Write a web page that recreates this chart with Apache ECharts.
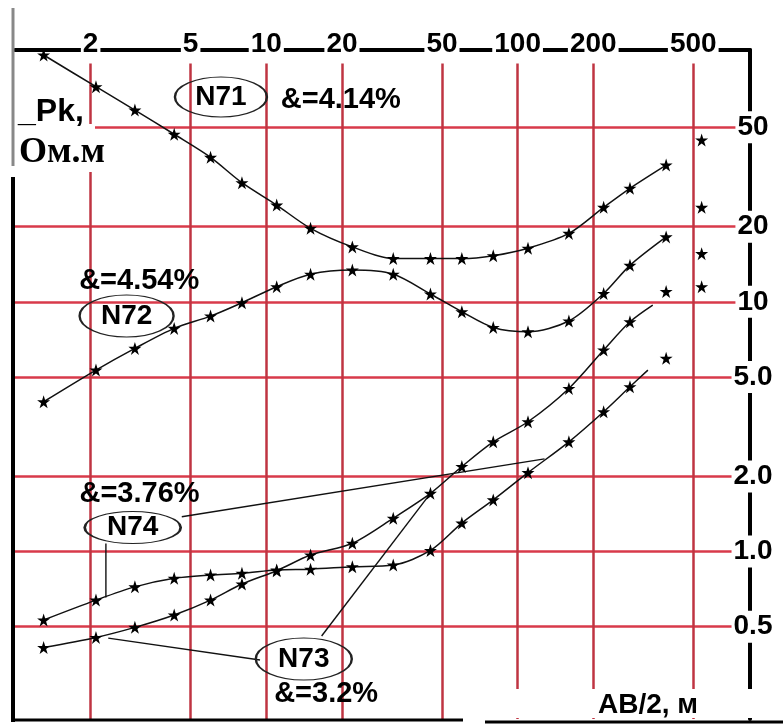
<!DOCTYPE html>
<html><head><meta charset="utf-8">
<script src="https://cdn.jsdelivr.net/npm/echarts@6/dist/echarts.min.js"></script>
<style>html,body{margin:0;padding:0;background:#fff}#c{width:783px;height:724px}</style>
</head><body><div id="c"></div>
<script>
// AB/2 (m) of the sounding stations
const abHalf = [1.3, 2.1, 3, 4.3, 6, 8, 11, 15, 22, 32, 45, 60, 80, 110, 160, 220, 280, 390];
// apparent resistivity (Ohm.m), connected observations
const rhoN71 = [97.4, 72.7, 58.6, 46.9, 37.9, 30.0, 24.4, 19.7, 16.6, 14.9, 14.9, 14.9, 15.3, 16.4, 18.8, 23.9, 28.5, 35.3];
const rhoN72 = [3.98, 5.33, 6.51, 7.83, 8.77, 9.92, 11.5, 12.9, 13.4, 12.9, 10.75, 9.13, 7.9, 7.59, 8.38, 10.8, 14.0, 18.2];
const rhoN74 = [0.532, 0.639, 0.722, 0.781, 0.805, 0.818, 0.843, 0.85, 0.869, 0.883, 1.01, 1.30, 1.61, 2.07, 2.75, 3.63, 4.57, null];
const rhoN73 = [0.413, 0.453, 0.497, 0.557, 0.639, 0.741, 0.838, 0.968, 1.079, 1.36, 1.71, 2.19, 2.75, 3.31, 4.50, 6.41, 8.32, null];
// where the drawn curve stops (no observation there)
const curveEndN74 = [330, 5.33];
const curveEndN73 = [345, 9.71];
// observations not joined to the curves
const looseAB = [390, 540];
const looseN71 = [null, 44.5];
const looseN72 = [null, 23.9];
const looseN74 = [5.94, 11.5];
const looseN73 = [11.0, 15.6];
// axis ticks
const xTicks = [2, 5, 10, 20, 50, 100, 200, 500];
const yTicks = [0.5, 1, 2, 5, 10, 20, 50];
const yTickLabels = ['0.5', '1.0', '2.0', '5.0', '10', '20', '50'];
// annotations (in data coordinates)
const tagNames = ['N71', 'N72', 'N74', 'N73'];
const tagAt = [[6.6, 66.1], [2.78, 8.78], [2.94, 1.248], [14.1, 0.371]];
const errTexts = ['&=4.14%', '&=4.54%', '&=3.76%', '&=3.2%'];
const errAt = [[19.8, 64.3], [3.12, 12.1], [3.13, 1.70], [17.3, 0.269]];
const leaders = [
  [[2.3, 1.077], [2.3, 0.655]],
  [[4.61, 1.379], [128, 2.35]],
  [[9.44, 0.368], [2.35, 0.45]],
  [[16.6, 0.459], [45, 1.71]]
];

const STAR = 'path://M0,-10L2.245,-3.09L9.51,-3.09L3.633,1.18L5.878,8.09L0,3.82L-5.878,8.09L-3.633,1.18L-9.51,-3.09L-2.245,-3.09Z';
const ELLIPSE = 'path://M0,-1C0.552,-1 1,-0.552 1,0C1,0.552 0.552,1 0,1C-0.552,1 -1,0.552 -1,0C-1,-0.552 -0.552,-1 0,-1Z';
const SANS = '"Liberation Sans", Arial, sans-serif';

function curveData(rho, end) {
  const d = [];
  abHalf.forEach((a, i) => { if (rho[i] != null) d.push([a, rho[i]]); });
  if (end) d.push({ value: end, symbol: 'none' });
  return d;
}
function looseData(rho) {
  const d = [];
  looseAB.forEach((a, i) => { if (rho[i] != null) d.push([a, rho[i]]); });
  return d;
}
const curveStyle = {
  type: 'line', smooth: 0.3, symbol: STAR, symbolSize: 13, showSymbol: true,
  itemStyle: { color: '#000', opacity: 1 }, lineStyle: { color: '#111', width: 1.5 }, z: 3
};
const looseStyle = { type: 'scatter', symbol: STAR, symbolSize: 13, itemStyle: { color: '#000', opacity: 1 }, z: 3 };

const series = [
  Object.assign({ name: 'N71', data: curveData(rhoN71) }, curveStyle),
  Object.assign({ name: 'N72', data: curveData(rhoN72) }, curveStyle),
  Object.assign({ name: 'N74', data: curveData(rhoN74, curveEndN74) }, curveStyle),
  Object.assign({ name: 'N73', data: curveData(rhoN73, curveEndN73) }, curveStyle),
  Object.assign({ data: looseData(looseN71) }, looseStyle),
  Object.assign({ data: looseData(looseN72) }, looseStyle),
  Object.assign({ data: looseData(looseN74) }, looseStyle),
  Object.assign({ data: looseData(looseN73) }, looseStyle)
];
leaders.forEach(seg => series.push({
  type: 'line', data: seg, symbol: 'none', smooth: false,
  lineStyle: { color: '#111', width: 1.4 }, z: 3
}));
const tagSizes = [[92, 40], [94, 42], [96, 32], [96, 42]];
series.push({
  type: 'scatter', z: 4,
  data: tagNames.map((n, i) => ({ name: n, value: tagAt[i], symbolSize: tagSizes[i] })),
  symbol: ELLIPSE,
  itemStyle: { color: 'rgba(0,0,0,0)', borderColor: '#222', borderWidth: 1.6, opacity: 1 },
  label: { show: true, position: 'inside', formatter: p => p.name, color: '#000', opacity: 1,
           fontSize: 28, fontWeight: 'bold', fontFamily: SANS }
});
series.push({
  type: 'scatter', z: 4, symbol: 'rect', symbolSize: 1,
  data: errTexts.map((t, i) => ({ name: t, value: errAt[i] })),
  itemStyle: { color: 'rgba(0,0,0,0)', opacity: 1 },
  label: { show: true, position: 'inside', formatter: p => p.name, color: '#000', opacity: 1,
           fontSize: 29, fontWeight: 'bold', fontFamily: SANS }
});

const chart = echarts.init(document.getElementById('c'));
chart.setOption({
  animation: false,
  backgroundColor: '#fff',
  grid: { left: 15, right: 33, top: 50, bottom: 5 },
  xAxis: {
    type: 'log', logBase: 10, min: 1, max: 841, position: 'top',
    axisLine: { show: true, lineStyle: { color: '#000', width: 4 } },
    axisTick: { show: false, customValues: xTicks },
    minorTick: { show: false },
    axisLabel: {
      customValues: xTicks, formatter: v => String(Math.round(v)),
      margin: 6, verticalAlign: 'middle', fontSize: 28, fontWeight: 'bold', fontFamily: SANS,
      color: '#000', backgroundColor: '#fff', padding: [3, 2, 8, 2]
    },
    splitLine: { show: true, lineStyle: { color: '#bf3442', width: 2.5 } }
  },
  yAxis: {
    type: 'log', logBase: 10, min: 0.2135, max: 102, position: 'right',
    axisLine: { show: true, lineStyle: { color: '#000', width: 4 } },
    axisTick: { show: false, customValues: yTicks },
    minorTick: { show: false },
    axisLabel: {
      customValues: yTicks,
      formatter: v => { const i = yTicks.findIndex(t => Math.abs(t - v) < 1e-6 * t); return i >= 0 ? yTickLabels[i] : ''; },
      margin: 3, align: 'center', verticalAlign: 'middle', fontSize: 28, fontWeight: 'bold', fontFamily: SANS,
      color: '#000', backgroundColor: '#fff', padding: [2, 2, 2, 2]
    },
    splitLine: { show: true, lineStyle: { color: '#d83a4a', width: 2.5 } }
  },
  graphic: [
    { type: 'rect', z: 1, shape: { x: 15, y: 124, width: 80, height: 48 }, style: { fill: '#fff' } },
    { type: 'rect', z: 1, shape: { x: 462, y: 689, width: 321, height: 29 }, style: { fill: '#fff' } },
    { type: 'line', z: 5, shape: { x1: 13, y1: 8, x2: 13, y2: 166 }, style: { stroke: '#888', lineWidth: 3 } },
    { type: 'line', z: 5, shape: { x1: 13, y1: 177, x2: 13, y2: 722 }, style: { stroke: '#000', lineWidth: 4 } },
    { type: 'line', z: 5, shape: { x1: 11, y1: 720, x2: 463, y2: 720 }, style: { stroke: '#000', lineWidth: 3 } },
    { type: 'line', z: 5, shape: { x1: 485, y1: 722, x2: 783, y2: 722 }, style: { stroke: '#000', lineWidth: 3 } },
    { type: 'text', z: 5, style: { text: '_Pk,', x: 18, y: 112, verticalAlign: 'middle', font: 'bold 32px ' + SANS, fill: '#000' } },
    { type: 'text', z: 5, style: { text: 'Ом.м', x: 19, y: 153, verticalAlign: 'middle', font: 'bold 36px "Liberation Serif", serif', fill: '#000' } },
    { type: 'text', z: 5, style: { text: 'AB/2, м', x: 598, y: 705, verticalAlign: 'middle', font: 'bold 28px ' + SANS, fill: '#000' } }
  ],
  series: series
});
</script></body></html>
